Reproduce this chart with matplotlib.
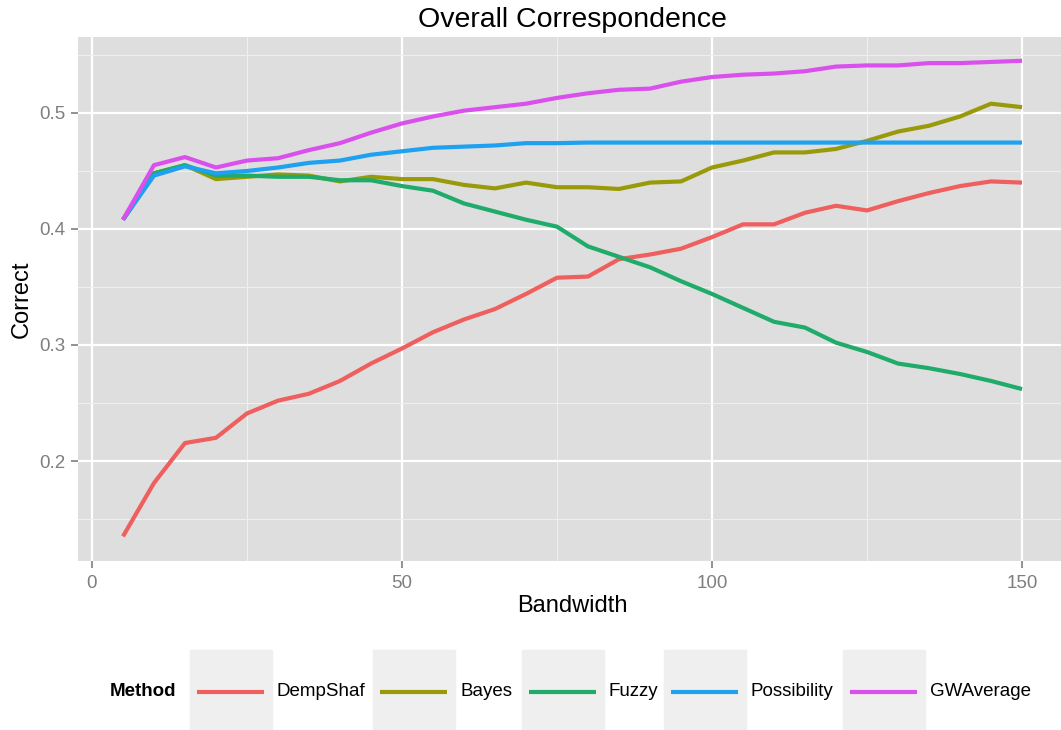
import matplotlib
matplotlib.use('Agg')
import matplotlib.pyplot as plt
from matplotlib.patches import Rectangle
from matplotlib.lines import Line2D

plt.rcParams['font.family'] = ['Liberation Sans', 'DejaVu Sans']

# bandwidth values on the x axis
bandwidth = [5, 10, 15, 20, 25, 30, 35, 40, 45, 50, 55, 60, 65, 70, 75,
             80, 85, 90, 95, 100, 105, 110, 115, 120, 125, 130, 135, 140, 145, 150]

demp_shaf = [0.135, 0.181, 0.2155, 0.220, 0.241, 0.252, 0.258, 0.269, 0.284, 0.297,
             0.311, 0.322, 0.331, 0.344, 0.358, 0.359, 0.374, 0.378, 0.383, 0.393,
             0.404, 0.404, 0.414, 0.420, 0.416, 0.424, 0.431, 0.437, 0.441, 0.440]
bayes = [0.408, 0.448, 0.455, 0.443, 0.445, 0.447, 0.446, 0.441, 0.445, 0.443,
         0.443, 0.438, 0.435, 0.440, 0.436, 0.436, 0.4345, 0.440, 0.441, 0.453,
         0.459, 0.466, 0.466, 0.469, 0.476, 0.484, 0.489, 0.497, 0.508, 0.505]
fuzzy = [0.408, 0.448, 0.455, 0.446, 0.446, 0.445, 0.445, 0.442, 0.442, 0.437,
         0.433, 0.422, 0.415, 0.408, 0.402, 0.385, 0.376, 0.367, 0.355, 0.344,
         0.332, 0.320, 0.315, 0.302, 0.294, 0.284, 0.280, 0.275, 0.269, 0.262]
possibility = [0.408, 0.446, 0.454, 0.448, 0.450, 0.453, 0.457, 0.459, 0.464, 0.467,
               0.470, 0.471, 0.472, 0.474, 0.474, 0.4745, 0.4745, 0.4745, 0.4745, 0.4745,
               0.4745, 0.4745, 0.4745, 0.4745, 0.4745, 0.4745, 0.4745, 0.4745, 0.4745, 0.4745]
gw_average = [0.408, 0.455, 0.462, 0.453, 0.459, 0.461, 0.468, 0.474, 0.483, 0.491,
              0.497, 0.502, 0.505, 0.508, 0.513, 0.517, 0.520, 0.521, 0.527, 0.531,
              0.533, 0.534, 0.536, 0.540, 0.541, 0.541, 0.543, 0.543, 0.544, 0.545]

methods = ['DempShaf', 'Bayes', 'Fuzzy', 'Possibility', 'GWAverage']
series = [demp_shaf, bayes, fuzzy, possibility, gw_average]
# ggplot hue palette, as it looks in the reference image
colors = ['#EE5F5E', '#999A0A', '#1FAB6A', '#1DA1F0', '#DA50EC']

W, H = 1061, 730
fig = plt.figure(figsize=(W / 100, H / 100), dpi=100)

# panel in pixels: left 78, top 37, bottom 561, right runs slightly past the image edge
left, top, bottom, right = 78, 37, 561, 1067
ax = fig.add_axes([left / W, (H - bottom) / H, (right - left) / W, (bottom - top) / H])
ax.set_facecolor('#DEDEDE')
for s in ax.spines.values():
    s.set_visible(False)

for vals, c in zip(series, colors):
    ax.plot(bandwidth, vals, color=c, lw=3, solid_capstyle='butt', zorder=3)

ax.set_xlim(-2.25, 157.25)
ax.set_ylim(0.1138, 0.5655)
ax.set_xticks([0, 50, 100, 150])
ax.set_xticks([25, 75, 125], minor=True)
ax.set_yticks([0.2, 0.3, 0.4, 0.5])
ax.set_yticks([0.15, 0.25, 0.35, 0.45, 0.55], minor=True)
ax.set_yticklabels(['0.2', '0.3', '0.4', '0.5'])
ax.grid(which='major', color='white', lw=1.6, zorder=1)
ax.grid(which='minor', color='#EFEFEF', lw=0.8, zorder=1)
ax.set_axisbelow(True)
ax.tick_params(which='major', length=5, width=1.2, color='#7F7F7F',
               labelcolor='#7F7F7F', labelsize=13.5, pad=4)
ax.tick_params(axis='x', which='major', pad=5)
ax.tick_params(which='minor', length=0)

fig.text((left + right) / 2 / W, (H - 20) / H, 'Overall Correspondence',
         ha='center', va='center', fontsize=20.5)
fig.text((left + right) / 2 / W, (H - 606) / H, 'Bandwidth',
         ha='center', va='center', fontsize=17)
fig.text(22 / W, (H - (top + bottom) / 2) / H, 'Correct', rotation=90,
         ha='center', va='center', fontsize=17)

# legend at the bottom, ggplot style keys
ly = 692
fig.text(110 / W, (H - ly) / H, 'Method', fontweight='bold',
         ha='left', va='center', fontsize=13.5)
key_left = [190, 373, 522, 664, 843]
key_w = 82
for name, c, kx in zip(methods, colors, key_left):
    fig.patches.append(Rectangle((kx / W, (H - 730) / H), key_w / W, 80 / H,
                                 transform=fig.transFigure, color='#EFEFEF', zorder=0))
    fig.lines.append(Line2D([(kx + 7) / W, (kx + key_w - 8) / W],
                            [(H - ly) / H] * 2, transform=fig.transFigure,
                            color=c, lw=3, solid_capstyle='butt'))
    fig.text((kx + key_w + 5) / W, (H - ly) / H, name, ha='left', va='center',
             fontsize=13.5)

fig.savefig('out.png', dpi=100)
